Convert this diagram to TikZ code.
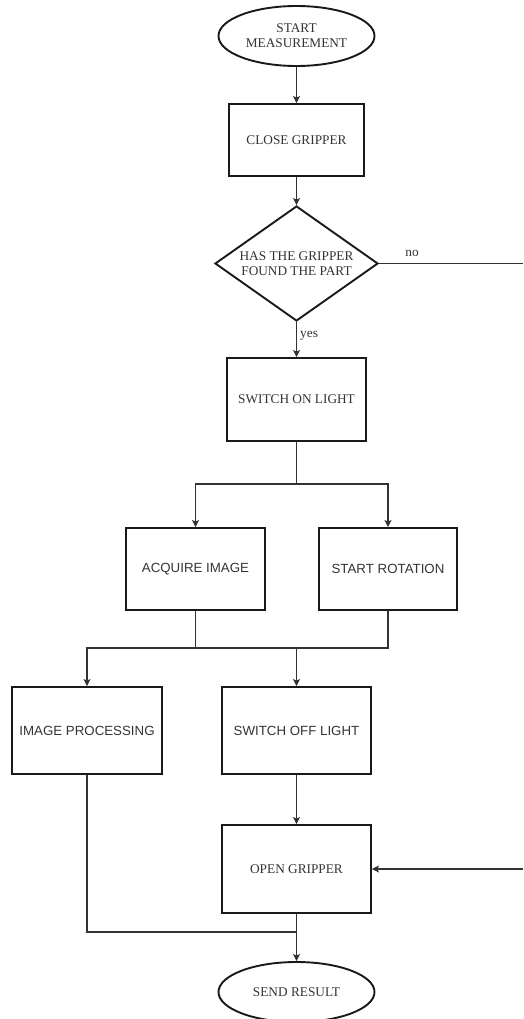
\documentclass[tikz,border=0pt]{standalone}
\usepackage{fontspec}
\setmainfont{Liberation Serif}
\newfontfamily\arialfont{Liberation Sans}
\usetikzlibrary{shapes.geometric,arrows.meta}
\definecolor{ink}{HTML}{333333}
\tikzset{
  base/.style={draw=black!90, line width=1.9pt, text=ink, align=center, inner sep=0pt,
    font=\fontsize{13.3}{15}\selectfont},
  box/.style={base, rectangle},
  sansbox/.style={base, rectangle, font=\arialfont\fontsize{13.3}{15}\selectfont},
  term/.style={base, ellipse},
  decide/.style={base, diamond},
  conn/.style={draw=black!80, line width=1.1pt},
  arr/.style={conn, -{Stealth[length=7pt, width=7pt, inset=1.5pt]}},
  lbl/.style={text=ink, font=\fontsize{13.3}{15}\selectfont, inner sep=0pt}
}
\begin{document}
\begin{tikzpicture}[x=1pt, y=-1pt]
\useasboundingbox (0,0) rectangle (523,1019);

% process steps
\node[term, minimum width=156pt, minimum height=60pt] (start) at (296.5,36) {START\\MEASUREMENT};
\node[box, minimum width=135pt, minimum height=72pt] (close) at (296.5,140) {CLOSE GRIPPER};
\node[decide, minimum width=163pt, minimum height=115pt, aspect=1.42] (dec) at (296.5,263.5) {HAS THE GRIPPER\\FOUND THE PART};
\node[box, minimum width=139pt, minimum height=83pt] (son) at (296.5,399.5) {SWITCH ON LIGHT};
\node[sansbox, minimum width=139pt, minimum height=82pt] (acq) at (195.5,569) {ACQUIRE IMAGE};
\node[sansbox, minimum width=138pt, minimum height=82pt] (rot) at (388,569) {START ROTATION};
\node[sansbox, minimum width=150pt, minimum height=87pt] (proc) at (87,730.5) {IMAGE PROCESSING};
\node[sansbox, minimum width=149pt, minimum height=87pt] (soff) at (296.5,730.5) {SWITCH OFF LIGHT};
\node[box, minimum width=149pt, minimum height=88pt] (open) at (296.5,869) {OPEN GRIPPER};
\node[term, minimum width=156pt, minimum height=60pt] (send) at (296.5,992) {SEND RESULT};

% branch points and free ends
\coordinate (noEnd) at (523,263.5);
\coordinate (retIn) at (523,869);
\coordinate (fork) at (296.5,484);
\coordinate (merge) at (296.5,648);
\coordinate (join) at (296.5,932);

% connectors
\draw[arr] (start) -- (close);
\draw[arr] (close) -- (dec);
\draw[conn] (dec.east) -- (noEnd);
\node[lbl] (nolbl) at (412,253) {no};
\draw[arr] (dec.south) -- (son.north);
\node[lbl, anchor=west] (yeslbl) at (300,336) {yes};
\draw[conn] (son.south) -- (fork);
\draw[arr] (fork) -| (acq.north);
\draw[arr] (fork) -| (rot.north);
\draw[conn] (acq.south) |- (merge);
\draw[conn] (rot.south) |- (merge);
\draw[arr] (merge) -| (proc.north);
\draw[arr] (merge) -- (soff.north);
\draw[arr] (soff.south) -- (open.north);
\draw[arr] (retIn) -- (open.east);
\draw[conn] (proc.south) |- (join);
\draw[arr] (open.south) -- (send.north);
\end{tikzpicture}
\end{document}
